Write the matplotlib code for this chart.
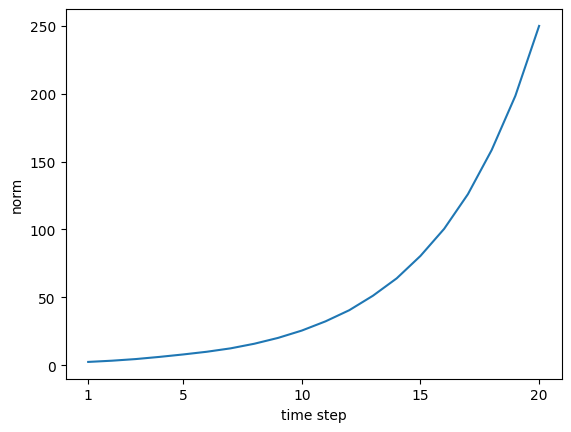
import matplotlib
matplotlib.use("Agg")
import matplotlib.pyplot as plt

# norm at each time step
steps = list(range(1, 21))
norms = [2.4, 3.3, 4.5, 6.1, 7.9, 9.9, 12.4, 15.8, 20.1, 25.5,
         32.3, 40.5, 51.2, 64.0, 80.5, 100.5, 126.0, 158.5, 198.5, 250.0]
tick_steps = [1, 5, 10, 15, 20]

fig, ax = plt.subplots(figsize=(6.4, 4.8), dpi=100)
ax.plot(steps, norms)
ax.set_xticks(tick_steps)
ax.set_xlabel("time step")
ax.set_ylabel("norm")

fig.savefig("out.png", bbox_inches="tight")
